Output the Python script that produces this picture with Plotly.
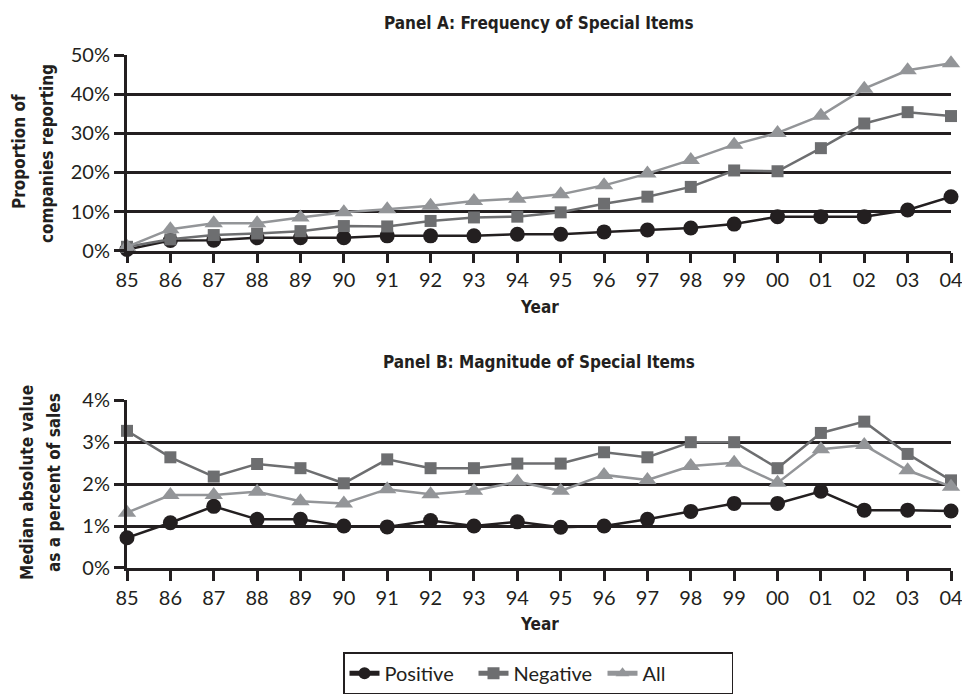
import plotly.graph_objects as go

years = ["85", "86", "87", "88", "89", "90", "91", "92", "93", "94",
         "95", "96", "97", "98", "99", "00", "01", "02", "03", "04"]

# Panel A: Frequency of special items (proportion, %)
freq_positive = [0.3, 2.6, 2.7, 3.3, 3.3, 3.3, 3.8, 3.8, 3.8, 4.2,
                 4.2, 4.8, 5.3, 5.8, 6.8, 8.7, 8.7, 8.7, 10.4, 13.8]
freq_negative = [1.0, 2.9, 4.0, 4.4, 5.0, 6.3, 6.2, 7.6, 8.5, 8.7,
                 9.8, 12.0, 13.8, 16.3, 20.5, 20.3, 26.2, 32.5, 35.4, 34.4]
freq_all = [1.0, 5.5, 7.0, 7.0, 8.5, 9.8, 10.6, 11.5, 12.7, 13.3,
            14.4, 16.7, 19.7, 23.2, 27.1, 30.1, 34.5, 41.4, 46.1, 47.9]

# Panel B: Magnitude of special items (median abs value, % of sales)
mag_positive = [0.72, 1.08, 1.47, 1.16, 1.16, 1.00, 0.98, 1.13, 1.00, 1.10,
                0.97, 1.00, 1.16, 1.35, 1.54, 1.54, 1.83, 1.38, 1.38, 1.36]
mag_negative = [3.27, 2.64, 2.18, 2.48, 2.38, 2.02, 2.59, 2.38, 2.38, 2.49,
                2.49, 2.76, 2.64, 3.00, 3.00, 2.38, 3.22, 3.49, 2.72, 2.09]
mag_all = [1.32, 1.74, 1.74, 1.82, 1.59, 1.54, 1.88, 1.76, 1.84, 2.06,
           1.84, 2.22, 2.10, 2.43, 2.51, 2.03, 2.83, 2.93, 2.33, 1.94]

series_names = ["Positive", "Negative", "All"]
colors = ["#231f20", "#6d6e70", "#939598"]
symbols = ["circle", "square", "triangle-up"]
msizes = [15, 12, 16]

idx = list(range(len(years)))

fig = go.Figure()

panelA = [freq_positive, freq_negative, freq_all]
panelB = [mag_positive, mag_negative, mag_all]

for i in range(3):
    fig.add_trace(go.Scatter(
        x=idx, y=panelA[i], name=series_names[i], mode="lines+markers",
        line=dict(color=colors[i], width=2.5),
        marker=dict(symbol=symbols[i], size=msizes[i], color=colors[i]),
        xaxis="x", yaxis="y", cliponaxis=False, showlegend=True,
    ))
for i in range(3):
    fig.add_trace(go.Scatter(
        x=idx, y=panelB[i], name=series_names[i], mode="lines+markers",
        line=dict(color=colors[i], width=2.5),
        marker=dict(symbol=symbols[i], size=msizes[i], color=colors[i]),
        xaxis="x2", yaxis="y2", cliponaxis=False, showlegend=False,
    ))

tickfont = dict(family="Lato, Open Sans, sans-serif", size=20, color="#231f20")
boldfont = "Liberation Sans Narrow, DejaVu Sans Condensed, Arial Narrow, sans-serif"

xcommon = dict(
    range=[0, 19], tickmode="array", tickvals=idx, ticktext=years,
    showgrid=False, zeroline=False, showline=True, linecolor="#231f20",
    linewidth=2.5, ticks="outside", ticklen=10, tickwidth=2.5,
    tickcolor="#231f20", tickfont=tickfont, fixedrange=True, automargin=False,
)
ycommon = dict(
    showgrid=True, gridcolor="#231f20", gridwidth=2.5, zeroline=False,
    showline=True, linecolor="#231f20", linewidth=3, ticks="outside",
    ticklen=10, tickwidth=2.5, tickcolor="#231f20", tickfont=tickfont,
    ticksuffix="%", fixedrange=True, automargin=False,
)

# page body adds an 8px offset, so the figure is 962x687
fig.update_layout(
    width=962, height=687,
    margin=dict(l=119, r=19, t=47, b=127, autoexpand=False),
    paper_bgcolor="white", plot_bgcolor="white",
    xaxis=dict(domain=[0, 1], anchor="y", **xcommon),
    yaxis=dict(domain=[0.6185, 1], anchor="x", range=[0, 50], dtick=10, **ycommon),
    xaxis2=dict(domain=[0, 1], anchor="y2", **xcommon),
    yaxis2=dict(domain=[0, 0.327], anchor="x2", range=[0, 4], dtick=1, **ycommon),
    legend=dict(orientation="h", x=0.4988, y=-0.205, xanchor="center", yanchor="middle",
                bordercolor="#231f20", borderwidth=1.5, bgcolor="white",
                font=dict(family="Lato, Open Sans, sans-serif", size=20, color="#231f20"),
                traceorder="normal", itemsizing="constant", entrywidth=84),
    showlegend=True,
)

ann_font = dict(family=boldfont, size=17, color="#231f20")
ytitle_font = dict(family=boldfont, size=17, color="#231f20")
annotations = [
    dict(text="<b>Panel A: Frequency of Special Items</b>", x=0.5, y=1.0624, font=ann_font),
    dict(text="<b>Panel B: Magnitude of Special Items</b>", x=0.5, y=0.4016, font=ann_font),
    dict(text="<b>Year</b>", x=0.5, y=0.5088, font=ann_font),
    dict(text="<b>Year</b>", x=0.5, y=-0.109, font=ann_font),
    dict(text="<b>Proportion of</b>", x=(19 - 127) / 824,
         y=(568 - 152) / 513, textangle=-90, font=ytitle_font),
    dict(text="<b>companies reporting</b>", x=(47 - 127) / 824,
         y=(568 - 154) / 513, textangle=-90, font=ytitle_font),
    dict(text="<b>Median absolute value</b>", x=(27 - 127) / 824,
         y=(568 - 483) / 513, textangle=-90, font=ytitle_font),
    dict(text="<b>as a percent of sales</b>", x=(54 - 127) / 824,
         y=(568 - 483) / 513, textangle=-90, font=ytitle_font),
]
for a in annotations:
    fig.add_annotation(xref="paper", yref="paper", showarrow=False,
                       xanchor="center", yanchor="middle", **a)

fig.write_html("out.html")
